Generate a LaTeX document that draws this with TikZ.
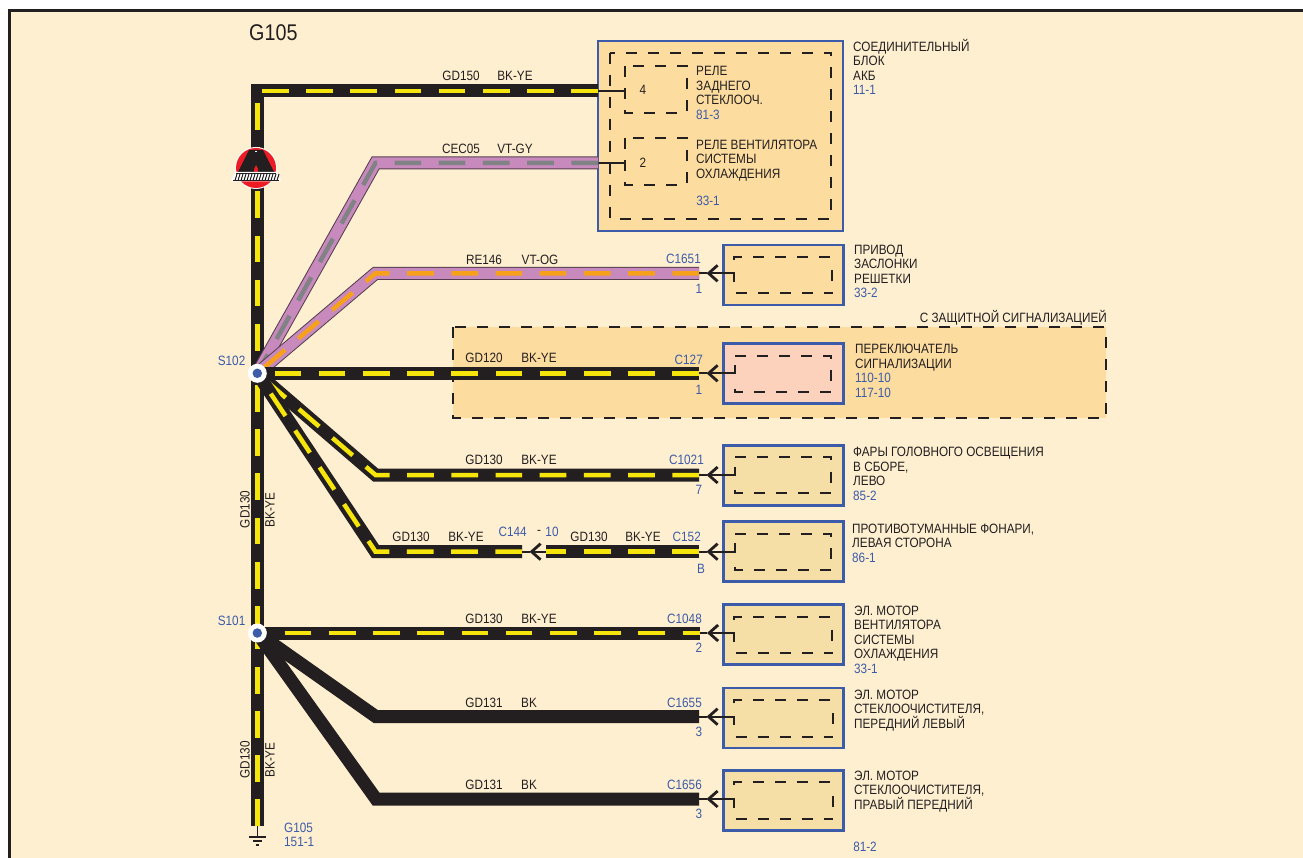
\documentclass[tikz,border=0pt]{standalone}
\usepackage{fontspec}
\setmainfont[FakeStretch=0.87]{Liberation Sans}
\usetikzlibrary{arrows.meta}
\definecolor{bgc}{HTML}{FEEFD0}
\definecolor{inkc}{HTML}{231F20}
\definecolor{bluec}{HTML}{3C5BA9}
\definecolor{boxa}{HTML}{FDDCA0}
\definecolor{boxb}{HTML}{F6DFA6}
\definecolor{boxc}{HTML}{FDD2BD}
\definecolor{yelc}{HTML}{F5E50A}
\definecolor{purc}{HTML}{C88ABD}
\definecolor{gryc}{HTML}{808285}
\definecolor{orgc}{HTML}{F7A11A}
\definecolor{redc}{HTML}{ED1C24}
\tikzset{
 x=1pt,y=-1pt,
 lbl/.style={font=\fontsize{13.5}{14.5}\selectfont,text=inkc,inner sep=0pt,align=left},
 ref/.style={lbl,text=bluec},
 multi/.style={lbl,anchor=north west},
 wirecore/.style={draw=inkc,line width=13pt,line join=miter},
 wiredash/.style={draw=#1,line width=4.5pt,dash pattern=on 26.7pt off 17.5pt},
 extbox/.style={draw=bluec,line width=2.5pt,minimum width=120pt,minimum height=60pt,inner sep=0pt,fill=boxb},
 inbox/.style={draw=inkc,line width=2pt,dash pattern=on 11pt off 11pt},
 insolid/.style={draw=inkc,line width=2pt},
 lead/.style={draw=inkc,line width=2pt},
 barb/.style={draw=inkc,line width=2pt,-{Straight Barb[length=9pt,width=16pt,line width=2.8pt]}},
 junc/.style={circle,fill=white,minimum size=19pt,inner sep=0pt},
 juncdot/.style={circle,fill=bluec,minimum size=9.5pt,inner sep=0pt}
}
\newcommand{\bkye}[1]{\draw[wirecore] #1; \draw[wiredash=yelc] #1;}
\newcommand{\purw}[2]{\draw[draw=inkc!70!purc,line width=13pt] #1; \draw[draw=purc,line width=11pt] #1; \draw[wiredash=#2] #1;}
\newcommand{\blkw}[1]{\draw[wirecore] #1;}
% \dboxA / \dboxB {name}{center y}{fill}{inner L}{inner R}{inner top}{inner bottom}{wire y}
\newcommand{\dboxA}[8]{
 \node[extbox,fill=#3] (#1) at (783.3,#2) {};
 \draw[inbox] (#4,#6+3) -- (#4,#6) -- (#5,#6);
 \draw[insolid] (#5-0.5,#8-3.5) -- (#5-0.5,#8+7.5);
 \draw[inbox] (#4+1.5,#7) -- (#5,#7);
 \draw[insolid] (#4,#8-1) -- (#4,#8+8.5);
}
\newcommand{\dboxB}[8]{
 \node[extbox,fill=#3] (#1) at (783.3,#2) {};
 \draw[inbox] (#4,#6) -- (#5-1,#6);
 \draw[insolid] (#5-1,#6) -- (#5,#6) -- (#5,#6+3);
 \draw[insolid] (#5,#8-3.5) -- (#5,#8+7.5);
 \draw[inbox] (#4,#7-3) -- (#4,#7) -- (#5,#7);
 \draw[insolid] (#4,#8-8.5) -- (#4,#8+1);
}
% \tconn{wire end coordinate}{inner x}
\newcommand{\tconn}[2]{
 \coordinate (#1t) at ([xshift=7.5pt]#1);
 \coordinate (#1i) at (#2,0 |- #1);
 \draw[barb] (#1i) -- (#1t);
 \draw[lead] (#1t) -- (#1);
}
\begin{document}
\begin{tikzpicture}
\useasboundingbox (0,0) rectangle (1303,858);
\fill[white] (0,0) rectangle (1303,858);
\fill[bgc] (10,11) rectangle (1303,858);
\draw[inkc,line width=3pt] (9.7,858) -- (9.7,11) -- (1303,11);

% junctions and bends
\coordinate (S102p) at (257.3,373.3);
\coordinate (S101p) at (257.3,633);
\coordinate (top) at (257.3,91);
\coordinate (topd) at (262,91);
\coordinate (gnd) at (257.3,826);
\coordinate (A1) at (598,91);
\coordinate (A2) at (598,163);
\coordinate (b2) at (375.5,163);
\coordinate (b3) at (375.5,273.3);
\coordinate (e3) at (699,273.3);
\coordinate (e4) at (699,373.3);
\coordinate (b5) at (375.5,475);
\coordinate (e5) at (699,475);
\coordinate (b6) at (375.5,551.7);
\coordinate (e6a) at (522,551.7);
\coordinate (s6) at (546,551.7);
\coordinate (e6) at (699,551.7);
\coordinate (e7) at (699.5,633);
\coordinate (b8) at (376,716.7);
\coordinate (e8) at (699,716.7);
\coordinate (b9) at (376,799);
\coordinate (e9) at (699,799);
\coordinate (v1s) at (257.3,103);
\coordinate (v1e) at (257.3,355);
\coordinate (v2s) at (257.3,385);
\coordinate (v3s) at (257.3,622.6);

% option region
\draw[fill=boxa,draw=inkc,line width=2pt,dash pattern=on 11pt off 11pt] (453,327) rectangle (1105.7,418);

% blocks
\node[draw=bluec,line width=2.5pt,fill=boxa,minimum width=245pt,minimum height=190pt,inner sep=0pt] (blockA) at (720.5,136) {};
\draw[inbox] (610,52.7) rectangle (831,219);
\draw[inbox] (625,66) rectangle (686.5,113);
\draw[inbox] (625,138) rectangle (686.5,185);
\draw[lead] (A1) -- (625,91);
\draw[lead] (A2) -- (625,163);

\dboxA{bx3}{275}{boxa}{734.3}{832.7}{256.7}{293}{273.3}
\dboxB{bx4}{373.7}{boxc}{735}{831}{355.7}{391.7}{373.3}
\dboxB{bx5}{475.3}{boxb}{735}{831}{457.3}{493}{475}
\dboxB{bx6}{551.7}{boxb}{735}{831}{533.7}{569.7}{551.7}
\dboxA{bx7}{634.3}{boxb}{734.3}{832.7}{616.7}{652.7}{633}
\dboxA{bx8}{718}{boxb}{734}{833}{700}{736.7}{716.7}
\dboxA{bx9}{800.3}{boxb}{734}{833}{782}{818.5}{799}

% wires
\draw[wirecore] (gnd) -- (top) -- (A1);
\draw[wiredash=yelc] (A1) -- (topd);
\draw[wiredash=yelc] (v1s) -- (v1e);
\draw[wiredash=yelc] (v2s) -- (S101p);
\draw[wiredash=yelc] (v3s) -- (gnd);
\purw{(A2) -- (b2) -- (S102p)}{gryc}
\purw{(e3) -- (b3) -- (S102p)}{orgc}
\bkye{(e4) -- (S102p)}
\bkye{(e5) -- (b5) -- (S102p)}
\bkye{(e6a) -- (b6) -- (S102p)}
\bkye{(e6) -- (s6)}
\draw[wirecore] (e7) -- (S101p);
\draw[wiredash=yelc,dash phase=9.7pt] (e7) -- (S101p);
\blkw{(S101p) -- (b8) -- (e8)}
\blkw{(S101p) -- (b9) -- (e9)}

% terminals
\tconn{e3}{734.3}
\tconn{e4}{735}
\tconn{e5}{735}
\tconn{e6}{735}
\tconn{e7}{734.3}
\tconn{e8}{734}
\tconn{e9}{734}
\coordinate (e6at) at ([xshift=7.5pt]e6a);
\draw[barb] (s6) -- (e6at);
\draw[lead] (e6at) -- (e6a);

% splices
\node[junc] (S102) at (S102p) {};
\node[juncdot] (S102d) at (S102p) {};
\node[junc] (S101) at (S101p) {};
\node[juncdot] (S101d) at (S101p) {};

% ground
\coordinate (gt) at (257.3,838);
\draw[inkc,line width=1.5pt] (gnd) -- (gt);
\draw[inkc,line width=1.5pt] (249,837) -- (265.7,837);
\draw[inkc,line width=1.5pt] (253,841) -- (262,841);
\draw[inkc,line width=1.5pt] (255.5,845) -- (258.5,845);

% logo
\node[circle,fill=white,minimum size=42pt,inner sep=0pt] (logo) at (256,168) {};
\fill[redc] (256,168) circle (20pt);
\fill[inkc] (249,150) -- (263,150) -- (274,172) -- (238,172) -- cycle;
\fill[white] (254.8,151) rectangle (256.8,152.5);
\fill[redc] (254,172) -- (254,169) -- (256,165) -- (258,169) -- (258,172) -- cycle;
\fill[white] (231,181.5) -- (235,172) -- (277,172) -- (281,181.5) -- cycle;
\foreach \i in {0,...,14}{\draw[inkc,line width=1pt] (235+3*\i,180.5) -- (237+3*\i,174);}
\draw[inkc,line width=1pt] (233,180.5) -- (279,180.5);
\draw[inkc,line width=1pt] (236,173.5) -- (276,173.5);

% labels
\node[lbl,anchor=west,font=\fontsize{22.7}{24}\selectfont] (g105t) at (249,33) {G105};
\node[lbl] (l1a) at (461,75.5) {GD150};
\node[lbl] (l1b) at (515,75.5) {BK-YE};
\node[lbl] (l2a) at (461,148.5) {CEC05};
\node[lbl] (l2b) at (515,148.5) {VT-GY};
\node[lbl] (l3a) at (484,259.5) {RE146};
\node[lbl] (l3b) at (540,259.5) {VT-OG};
\node[lbl] (l4a) at (484,358) {GD120};
\node[lbl] (l4b) at (539,358) {BK-YE};
\node[lbl] (l5a) at (484,460) {GD130};
\node[lbl] (l5b) at (539,460) {BK-YE};
\node[lbl] (l6a) at (411,537) {GD130};
\node[lbl] (l6b) at (466,537) {BK-YE};
\node[lbl] (l6c) at (589,537) {GD130};
\node[lbl] (l6d) at (643,537) {BK-YE};
\node[lbl] (l7a) at (484,619) {GD130};
\node[lbl] (l7b) at (539,619) {BK-YE};
\node[lbl] (l8a) at (484,703) {GD131};
\node[lbl] (l8b) at (529,703) {BK};
\node[lbl] (l9a) at (484,785) {GD131};
\node[lbl] (l9b) at (529,785) {BK};
\node[lbl,rotate=90] (v1a) at (245,509.5) {GD130};
\node[lbl,rotate=90] (v1b) at (270,510) {BK-YE};
\node[lbl,rotate=90] (v2a) at (245,760) {GD130};
\node[lbl,rotate=90] (v2b) at (270,760) {BK-YE};

\node[ref,anchor=east] (r1) at (245.5,361) {S102};
\node[ref,anchor=east] (r2) at (245.5,620.5) {S101};
\node[ref,anchor=east] (c3) at (701,259) {C1651};
\node[ref,anchor=east] (c4) at (703,360) {C127};
\node[ref,anchor=east] (c5) at (704,460) {C1021};
\node[ref] (c6a) at (512.7,532) {C144};
\node[lbl] (c6m) at (539,532) {-};
\node[ref] (c6b) at (552,532) {10};
\node[ref,anchor=east] (c6) at (701,537) {C152};
\node[ref,anchor=east] (c7) at (702,619) {C1048};
\node[ref,anchor=east] (c8) at (702,703) {C1655};
\node[ref,anchor=east] (c9) at (702,785) {C1656};
\node[ref] (p3) at (699,289) {1};
\node[ref] (p4) at (699,390) {1};
\node[ref] (p5) at (699,490) {7};
\node[ref] (p6) at (701,569) {B};
\node[ref] (p7) at (699,648) {2};
\node[ref] (p8) at (699,732) {3};
\node[ref] (p9) at (699,814) {3};
\node[lbl] (n4) at (643,90) {4};
\node[lbl] (n2) at (643,163) {2};

\node[multi] (t0) at (853,39) {СОЕДИНИТЕЛЬНЫЙ\\БЛОК\\АКБ\\\textcolor{bluec}{11-1}};
\node[multi] (t1) at (696,66.5) {РЕЛЕ\\ЗАДНЕГО\\СТЕКЛООЧ.\\\textcolor{bluec}{81-3}};
\node[multi] (t2) at (696,139.5) {РЕЛЕ ВЕНТИЛЯТОРА\\СИСТЕМЫ\\ОХЛАЖДЕНИЯ};
\node[ref] (t2r) at (708,201) {33-1};
\node[multi] (t3) at (854,244.5) {ПРИВОД\\ЗАСЛОНКИ\\РЕШЕТКИ\\\textcolor{bluec}{33-2}};
\node[lbl,anchor=east] (t4h) at (1107,318) {С ЗАЩИТНОЙ СИГНАЛИЗАЦИЕЙ};
\node[multi] (t4) at (855,344) {ПЕРЕКЛЮЧАТЕЛЬ\\СИГНАЛИЗАЦИИ\\\textcolor{bluec}{110-10}\\\textcolor{bluec}{117-10}};
\node[multi] (t5) at (853,447) {ФАРЫ ГОЛОВНОГО ОСВЕЩЕНИЯ\\В СБОРЕ,\\ЛЕВО\\\textcolor{bluec}{85-2}};
\node[multi] (t6) at (852,523.5) {ПРОТИВОТУМАННЫЕ ФОНАРИ,\\ЛЕВАЯ СТОРОНА\\\textcolor{bluec}{86-1}};
\node[multi] (t7) at (854,605.5) {ЭЛ. МОТОР\\ВЕНТИЛЯТОРА\\СИСТЕМЫ\\ОХЛАЖДЕНИЯ\\\textcolor{bluec}{33-1}};
\node[multi] (t8) at (854,689.5) {ЭЛ. МОТОР\\СТЕКЛООЧИСТИТЕЛЯ,\\ПЕРЕДНИЙ ЛЕВЫЙ};
\node[multi] (t9) at (854,770.5) {ЭЛ. МОТОР\\СТЕКЛООЧИСТИТЕЛЯ,\\ПРАВЫЙ ПЕРЕДНИЙ};
\node[ref] (t9r) at (865,847) {81-2};
\node[multi,text=bluec] (g1) at (284,822.5) {G105\\151-1};
\end{tikzpicture}
\end{document}
